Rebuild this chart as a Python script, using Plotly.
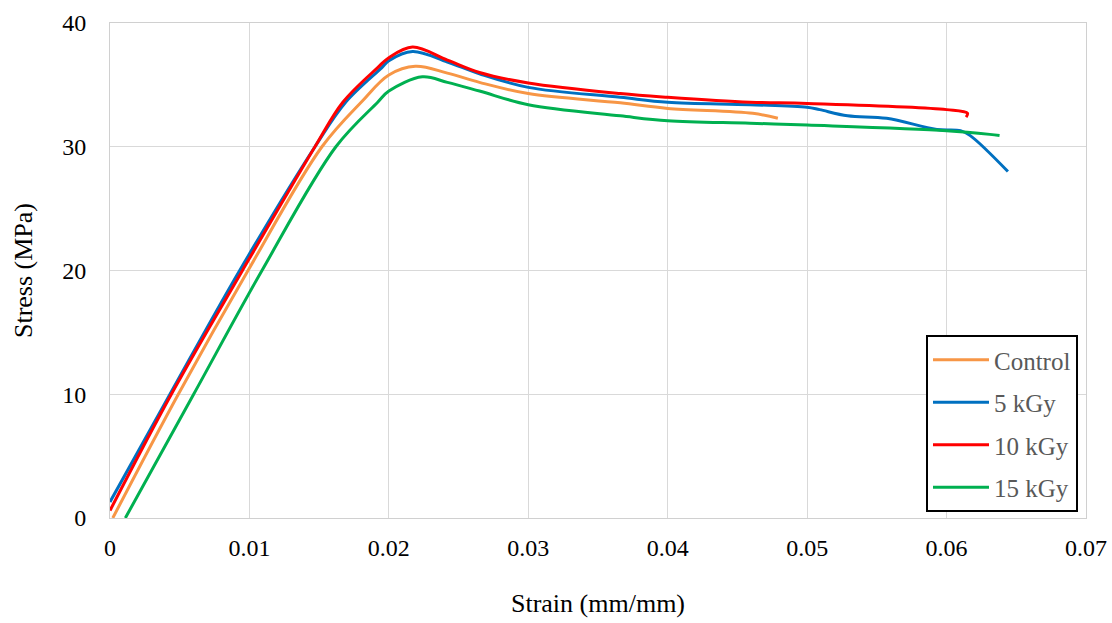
import plotly.graph_objects as go

# ---- data ----
control_x = [0.0002, 0.0049, 0.0099, 0.0152, 0.0181, 0.0200, 0.0219, 0.0242, 0.0265,
             0.0300, 0.0366, 0.0400, 0.0461, 0.0479]
control_y = [0.0, 10.0, 20.0, 30.0, 33.7, 35.8, 36.5, 35.95, 35.2,
             34.3, 33.55, 33.1, 32.7, 32.3]

kgy5_x = [0.0, 0.0043, 0.0093, 0.0147, 0.0169, 0.0195, 0.0200, 0.0217, 0.0242, 0.0265,
          0.0300, 0.0366, 0.0400, 0.0459, 0.0500, 0.0509, 0.0529, 0.0557, 0.0593,
          0.0610, 0.0617, 0.0644]
kgy5_y = [1.3, 10.0, 20.0, 30.0, 33.6, 36.4, 36.95, 37.7, 36.85, 35.9,
          34.8, 34.0, 33.6, 33.4, 33.2, 33.0, 32.5, 32.3, 31.4,
          31.3, 30.9, 28.0]

kgy10_x = [0.0, 0.0044, 0.0095, 0.0147, 0.0167, 0.0192, 0.0200, 0.0217, 0.0242, 0.0265,
           0.0300, 0.0366, 0.0400, 0.0459, 0.0500, 0.0600, 0.0615, 0.0614]
kgy10_y = [0.6, 10.0, 20.0, 30.0, 33.6, 36.4, 37.2, 38.06, 37.0, 36.0,
           35.15, 34.3, 34.0, 33.6, 33.5, 33.0, 32.7, 32.4]

kgy15_x = [0.0011, 0.0060, 0.0109, 0.0162, 0.0192, 0.0200, 0.0224, 0.0242, 0.0265,
           0.0300, 0.0366, 0.0400, 0.0459, 0.0500, 0.0600, 0.0631, 0.0638]
kgy15_y = [0.0, 10.0, 20.0, 30.0, 33.6, 34.5, 35.65, 35.2, 34.5,
           33.4, 32.5, 32.1, 31.9, 31.75, 31.3, 31.0, 30.9]

series = [
    ("Control", control_x, control_y, "#F79646"),
    ("5 kGy", kgy5_x, kgy5_y, "#0070C0"),
    ("10 kGy", kgy10_x, kgy10_y, "#FF0000"),
    ("15 kGy", kgy15_x, kgy15_y, "#00B050"),
]

x_ticks = [0, 0.01, 0.02, 0.03, 0.04, 0.05, 0.06, 0.07]
x_tick_labels = ["0", "0.01", "0.02", "0.03", "0.04", "0.05", "0.06", "0.07"]
y_ticks = [0, 10, 20, 30, 40]

FONT = "Liberation Serif"

fig = go.Figure()
for name, xs, ys, color in series:
    fig.add_trace(go.Scatter(
        x=xs, y=ys, mode="lines", name=name, legendgroup=name,
        line=dict(color=color, width=3, shape="spline", smoothing=1.0),
    ))

fig.update_layout(
    width=1112, height=623,
    margin=dict(l=110, r=26, t=23, b=105, autoexpand=False),
    paper_bgcolor="white", plot_bgcolor="white",
    font=dict(family=FONT, size=24, color="#000000"),
    showlegend=True,
    legend=dict(
        x=0.9918, y=0.012, xanchor="right", yanchor="bottom",
        bordercolor="#000000", borderwidth=2, bgcolor="white",
        font=dict(family=FONT, size=25, color="#595959"),
        tracegroupgap=7, itemwidth=56,
    ),
    xaxis=dict(
        range=[0, 0.07], tickvals=x_ticks, ticktext=x_tick_labels,
        showgrid=True, gridcolor="#d9d9d9", gridwidth=1,
        showline=True, linecolor="#d0d0d0", linewidth=1, mirror=True,
        zeroline=False, ticks="", ticklabelstandoff=8, automargin=False,
        tickfont=dict(family=FONT, size=24),
        title=dict(text="Strain (mm/mm)", standoff=34, font=dict(family=FONT, size=26)),
    ),
    yaxis=dict(
        range=[0, 40], tickvals=y_ticks,
        showgrid=True, gridcolor="#d9d9d9", gridwidth=1,
        showline=True, linecolor="#d0d0d0", linewidth=1, mirror=True,
        zeroline=False, ticks="", ticklabelstandoff=18, automargin=False,
        tickfont=dict(family=FONT, size=24),
        title=dict(text="Stress (MPa)", standoff=22, font=dict(family=FONT, size=26)),
    ),
)

fig.write_html("out.html")
